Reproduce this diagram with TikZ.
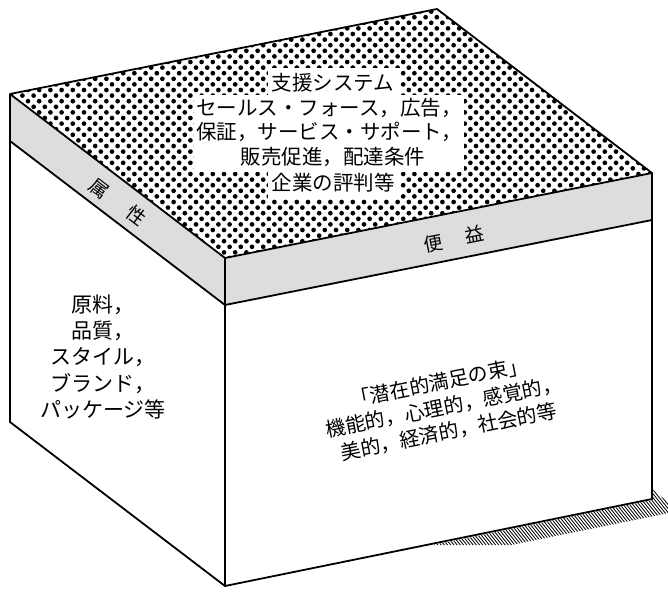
\documentclass[tikz,border=0pt]{standalone}
\usepackage{fontspec}
\setmainfont{Noto Sans CJK JP}
\definecolor{bandgray}{RGB}{221,221,221}
\tikzset{
  edge/.style={draw=black, line width=1.8pt, line join=round},
  jptext/.style={inner sep=0pt, align=center, text=black},
}
\begin{document}
\begin{tikzpicture}[x=1pt, y=-1pt]
\useasboundingbox (0,0) rectangle (668,596);
% corners
\coordinate (L) at (10,94);
\coordinate (B) at (437,9);
\coordinate (R) at (652,173);
\coordinate (F) at (225,258);
\coordinate (Lb) at (10,141);
\coordinate (Fb) at (225,305);
\coordinate (Rb) at (652,220);
\coordinate (Lbot) at (10,422);
\coordinate (Fbot) at (225,586);
\coordinate (Rbot) at (652,499);
% shadow hatching
\begin{scope}
  \clip (228,587) -- (652,500) -- (652,489) -- (679,511) -- (240,600) -- cycle;
  \foreach \k in {0,...,170}
    \draw[line width=0.8pt] ({170+\k*3.2},470) -- ++(60,75);
\end{scope}
% faces
\fill[white] (L) -- (B) -- (R) -- (F) -- cycle;
\begin{scope}
  \clip (L) -- (B) -- (R) -- (F) -- cycle;
  \foreach \j in {0,...,46} {
    \foreach \i in {0,...,60} {
      \fill ({\i*11.2+mod(\j,2)*5.6},{6+\j*5.6}) circle[radius=2.35pt];
    }
  }
\end{scope}
\fill[bandgray] (L) -- (F) -- (Fb) -- (Lb) -- cycle;
\fill[bandgray] (F) -- (R) -- (Rb) -- (Fb) -- cycle;
\fill[white] (Lb) -- (Fb) -- (Fbot) -- (Lbot) -- cycle;
\fill[white] (Fb) -- (Rb) -- (Rbot) -- (Fbot) -- cycle;
% outlines
\draw[edge] (L) -- (B) -- (R) -- (Rbot) -- (Fbot) -- (Lbot) -- cycle;
\draw[edge] (L) -- (F) -- (R);
\draw[edge] (Lb) -- (Fb) -- (Rb);
\draw[edge] (F) -- (Fbot);
% white boxes behind the top text
\fill[white] (268,68) rectangle (400,96);
\fill[white] (194,95) rectangle (464,172);
\fill[white] (268,171) rectangle (400,199);
% top text
\node[jptext, font=\fontsize{20.5}{24.75}\selectfont] (s1) at (333,83) {支援システム};
\node[jptext, font=\fontsize{20.5}{24.75}\selectfont] (s2) at (329,108) {セールス・フォース，広告，};
\node[jptext, font=\fontsize{20.5}{24.75}\selectfont] (s3) at (329,132) {保証，サービス・サポート，};
\node[jptext, font=\fontsize{20.5}{24.75}\selectfont] (s4) at (333,157) {販売促進，配達条件};
\node[jptext, font=\fontsize{20.5}{24.75}\selectfont] (s5) at (333,183) {企業の評判等};
% band labels
\node[jptext, font=\fontsize{19}{22}\selectfont, rotate=-37.33] (attrlabel) at (118,202) {属\hspace{27pt}性};
\node[jptext, font=\fontsize{19}{22}\selectfont, rotate=11.26] (benlabel) at (454,239) {便\hspace{23.5pt}益};
% left face text
\node[jptext, font=\fontsize{21}{26.2}\selectfont] (attrtext) at (103,357)
  {原料，\\品質，\\スタイル，\\ブランド，\\パッケージ等};
% right face text
\node[jptext, font=\fontsize{20}{25}\selectfont, rotate=11.26] (bentext) at (444,407)
  {「潜在的満足の束」\\機能的，心理的，感覚的，\\美的，経済的，社会的等};
\end{tikzpicture}
\end{document}
